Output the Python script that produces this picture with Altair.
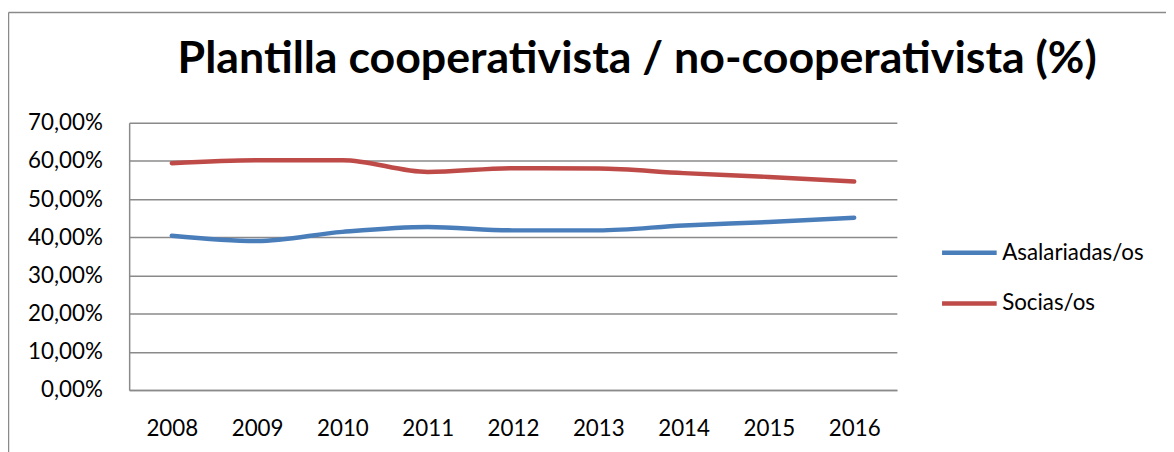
import altair as alt
import pandas as pd

years = ["2008", "2009", "2010", "2011", "2012", "2013", "2014", "2015", "2016"]
asalariadas = [0.404, 0.390, 0.414, 0.427, 0.418, 0.418, 0.431, 0.440, 0.451]
socias = [0.594, 0.602, 0.602, 0.571, 0.581, 0.580, 0.568, 0.558, 0.546]
series_names = ["Asalariadas/os", "Socias/os"]
series_colors = ["#4A7EBB", "#BE4B48"]
y_ticks = [0.0, 0.1, 0.2, 0.3, 0.4, 0.5, 0.6, 0.7]
chart_title = "Plantilla cooperativista / no-cooperativista (%)"

rows = []
for name, vals in zip(series_names, [asalariadas, socias]):
    for yr, v in zip(years, vals):
        rows.append({"year": yr, "value": v, "series": name})
df = pd.DataFrame(rows)

FONT = "Lato"
GRID = "#8A8A8A"
LABEL_SIZE = 22.5

lines = alt.Chart(df).mark_line(
    strokeWidth=4.5, strokeCap="round", strokeJoin="round", interpolate="monotone"
).encode(
    x=alt.X(
        "year:O",
        sort=years,
        scale=alt.Scale(type="point", padding=0.5),
        axis=alt.Axis(
            title=None, labelAngle=0, ticks=False, grid=False,
            domainColor=GRID, domainWidth=1.5,
            labelFont=FONT, labelFontSize=LABEL_SIZE, labelColor="black", labelPadding=28,
        ),
    ),
    y=alt.Y(
        "value:Q",
        scale=alt.Scale(domain=[0, 0.7], nice=False),
        axis=alt.Axis(
            title=None, values=y_ticks, ticks=False,
            grid=True, gridColor=GRID, gridWidth=1.5,
            domainColor=GRID, domainWidth=1.5,
            labelExpr="replace(format(datum.value, '.2%'), '.', ',')",
            labelFont=FONT, labelFontSize=LABEL_SIZE, labelColor="black", labelPadding=27,
        ),
    ),
    color=alt.Color(
        "series:N",
        scale=alt.Scale(domain=series_names, range=series_colors),
        legend=alt.Legend(
            title=None, orient="none", legendX=816, legendY=101,
            symbolType="stroke", symbolSize=3025, symbolStrokeWidth=4.5,
            labelFont=FONT, labelFontSize=LABEL_SIZE, labelColor="black",
            labelOffset=3, rowPadding=9, padding=0,
        ),
    ),
)

title_df = pd.DataFrame({"t": [chart_title]})
title = alt.Chart(title_df).mark_text(
    font=FONT, fontSize=45, fontWeight="bold", align="center",
    baseline="alphabetic", color="black",
).encode(text="t:N", x=alt.value(511.5), y=alt.value(-50.3))

frame_df = pd.DataFrame({"k": [0]})
frame_top = alt.Chart(frame_df).mark_rule(color=GRID, strokeWidth=1.5).encode(
    x=alt.value(-121.5), x2=alt.value(1050), y=alt.value(-111)
)
frame_left = alt.Chart(frame_df).mark_rule(color=GRID, strokeWidth=1.5).encode(
    x=alt.value(-121.5), y=alt.value(-111), y2=alt.value(340)
)

chart = alt.layer(frame_top, frame_left, lines, title).properties(
    width=773,
    height=269,
    padding={"left": 122, "top": 114, "right": 271, "bottom": 61},
    autosize=alt.AutoSizeParams(type="none"),
    background="white",
).configure_view(stroke=None)

chart.save("out.html", embed_options={"renderer": "svg", "actions": False})
